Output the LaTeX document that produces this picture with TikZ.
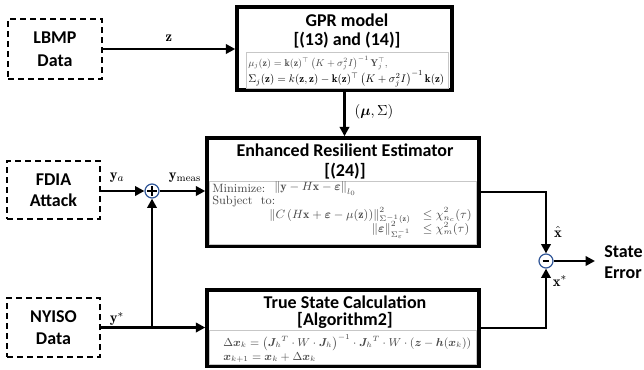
\documentclass[tikz,border=0pt]{standalone}
\usepackage{amsmath,bm}
\usepackage{graphicx}
\usepackage{fontspec}
\newfontfamily\titlefont{Carlito}
\usetikzlibrary{arrows.meta,fit}
\definecolor{circblue}{HTML}{2F5597}
\newsavebox\gprlineb
\begin{document}
\begin{tikzpicture}[x=0.75pt,y=-0.75pt,
  tfont/.style={font=\titlefont\bfseries\fontsize{13.5}{16}\selectfont},
  blk/.style={draw, line width=2.6pt, rectangle, inner sep=0},
  src/.style={draw, dash pattern=on 4.5pt off 3pt, line width=1.1pt, rectangle, inner sep=0, align=center, tfont},
  ttl/.style={tfont, inner sep=0},
  arr/.style={line width=2pt, -{Triangle[length=7pt,width=7pt]}},
  ln/.style={line width=2pt},
  lbl/.style={font=\fontsize{11}{13}\selectfont, inner sep=0},
  frm/.style={draw=black!22, line width=0.7pt, rectangle, inner sep=0},
  eq/.style={text=black!72, inner sep=0, font=\fontsize{9}{11}\selectfont},
  sumc/.style={circle, draw=circblue, line width=0.9pt, fill=white, minimum size=10.5pt, inner sep=0}
]
\useasboundingbox (0,0) rectangle (644,369);

% source boxes
\node[src, fit={(8,19) (102,79)}] (lbmp) {};
\node[tfont, align=center, inner sep=0] at (lbmp.center) {LBMP\\[1pt]Data};
\node[src, fit={(7,161) (100,219)}] (fdia) {};
\node[tfont, align=center, inner sep=0] at (fdia.center) {FDIA\\Attack};
\node[src, fit={(7,298) (100,357)}] (nyiso) {};
\node[tfont, align=center, inner sep=0] at (nyiso.center) {NYISO\\Data};

% GPR block
\node[blk, fit={(237,7) (452,90)}] (gpr) {};
\node[ttl] (gprt1) at (347,20) {GPR model};
\node[ttl] (gprt2) at (347,40) {[(13) and (14)]};
\node[frm, fit={(246,52) (448,88)}] (gprf) {};
\sbox\gprlineb{$\Sigma_j(\mathbf{z}) = k(\mathbf{z},\mathbf{z}) - \mathbf{k}(\mathbf{z})^{\top}\left(K+\sigma_j^2 I\right)^{-1}\mathbf{k}(\mathbf{z})$}
\pgfmathsetmacro{\gprscale}{147pt/\wd\gprlineb}
\node[eq, anchor=west] (gpreq1) at (248,63) {\scalebox{\gprscale}{$\mu_j(\mathbf{z}) = \mathbf{k}(\mathbf{z})^{\top}\left(K+\sigma_j^2 I\right)^{-1}\mathbf{Y}_j^{\top},$}};
\node[eq, anchor=west] (gpreq2) at (248,79) {\scalebox{\gprscale}{\usebox\gprlineb}};

% Estimator block
\node[blk, fit={(207,138) (479,246)}] (est) {};
\node[ttl] (estt1) at (345,150) {Enhanced Resilient Estimator};
\node[ttl] (estt2) at (345,171) {[(24)]};
\node[frm, fit={(209,181) (476,244)}] (estf) {};
\node[eq, anchor=west] (min) at (212,188.5) {Minimize:};
\node[eq, anchor=west] (minf) at (274,188.5) {$\left\|\mathbf{y}-H\mathbf{x}-\boldsymbol{\varepsilon}\right\|_{l_0}$};
\node[eq, anchor=west] (subj) at (212,201.5) {Subject\ \ to:};
\node[eq, anchor=east] (cons) at (472,223) {$\begin{array}{@{}r@{\quad}l@{}}
\left\|C\left(H\mathbf{x}+\boldsymbol{\varepsilon}-\mu(\mathbf{z})\right)\right\|^2_{\Sigma^{-1}(\mathbf{z})} & \le \chi^2_{n_c}(\tau)\\[-1.5pt]
\left\|\boldsymbol{\varepsilon}\right\|^2_{\Sigma_\varepsilon^{-1}} & \le \chi^2_{m}(\tau)
\end{array}$};

% True state block
\node[blk, fit={(207,290) (479,366)}] (tsc) {};
\node[ttl] (tsct1) at (345,302) {True State Calculation};
\node[ttl] (tsct2) at (345,320) {[Algorithm2]};
\node[frm, fit={(209,330) (476,364)}] (tscf) {};
\node[eq, anchor=west] (tsceq) at (223,349.5) {\resizebox{186pt}{!}{$\begin{array}{@{}l@{}}
\Delta\bm{x}_k = \left(\bm{J}_h{}^{T}\cdot W\cdot\bm{J}_h\right)^{-1}\cdot\bm{J}_h{}^{T}\cdot W\cdot\left(\bm{z}-\bm{h}(\bm{x}_k)\right)\\
\bm{x}_{k+1} = \bm{x}_k + \Delta\bm{x}_k
\end{array}$}};

% summing junctions
\node[sumc] (plus) at (152,191) {};
\draw[line width=1.2pt] ([xshift=-3.5pt]plus.center) -- ([xshift=3.5pt]plus.center)
  ([yshift=-3.5pt]plus.center) -- ([yshift=3.5pt]plus.center);
\node[sumc] (minus) at (546,261) {};
\draw[line width=1.3pt] ([xshift=-2.5pt]minus.center) -- ([xshift=2.5pt]minus.center);

% connectors
\draw[arr] (lbmp.east) -- (lbmp.east -| gpr.west) node[lbl, midway, above=5pt] {$\mathbf{z}$};
\draw[arr] (gpr.south) -- (gpr.south |- est.north);
\node[lbl] (mulbl) at (374,112) {$(\boldsymbol{\mu},\Sigma)$};
\draw[arr] (fdia.east |- plus) -- (plus.west);
\node[lbl] (yalbl) at (117,178) {$\mathbf{y}_a$};
\draw[arr] (plus.east) -- (plus -| est.west);
\node[lbl] (ymlbl) at (185,178) {$\mathbf{y}_{\mathrm{meas}}$};
\draw[arr] (nyiso.east) -- (nyiso.east -| tsc.west);
\node[lbl] (yslbl) at (117,319) {$\mathbf{y}^{*}$};
\coordinate (jn) at (nyiso.east -| plus);
\draw[arr] (jn) -- (plus.south);
\draw[arr] (est.east |- 0,192) -| (minus.north);
\node[lbl] (xhlbl) at (558,232) {$\hat{\mathbf{x}}$};
\draw[arr] (tsc.east) -| (minus.south);
\node[lbl] (xslbl) at (560,281) {$\mathbf{x}^{*}$};
\coordinate (outp) at (595,261);
\draw[arr] (minus.east) -- (outp);
\node[tfont, align=left, anchor=west, inner sep=0] (serr) at (604,262) {State\\Error};
\end{tikzpicture}
\end{document}
